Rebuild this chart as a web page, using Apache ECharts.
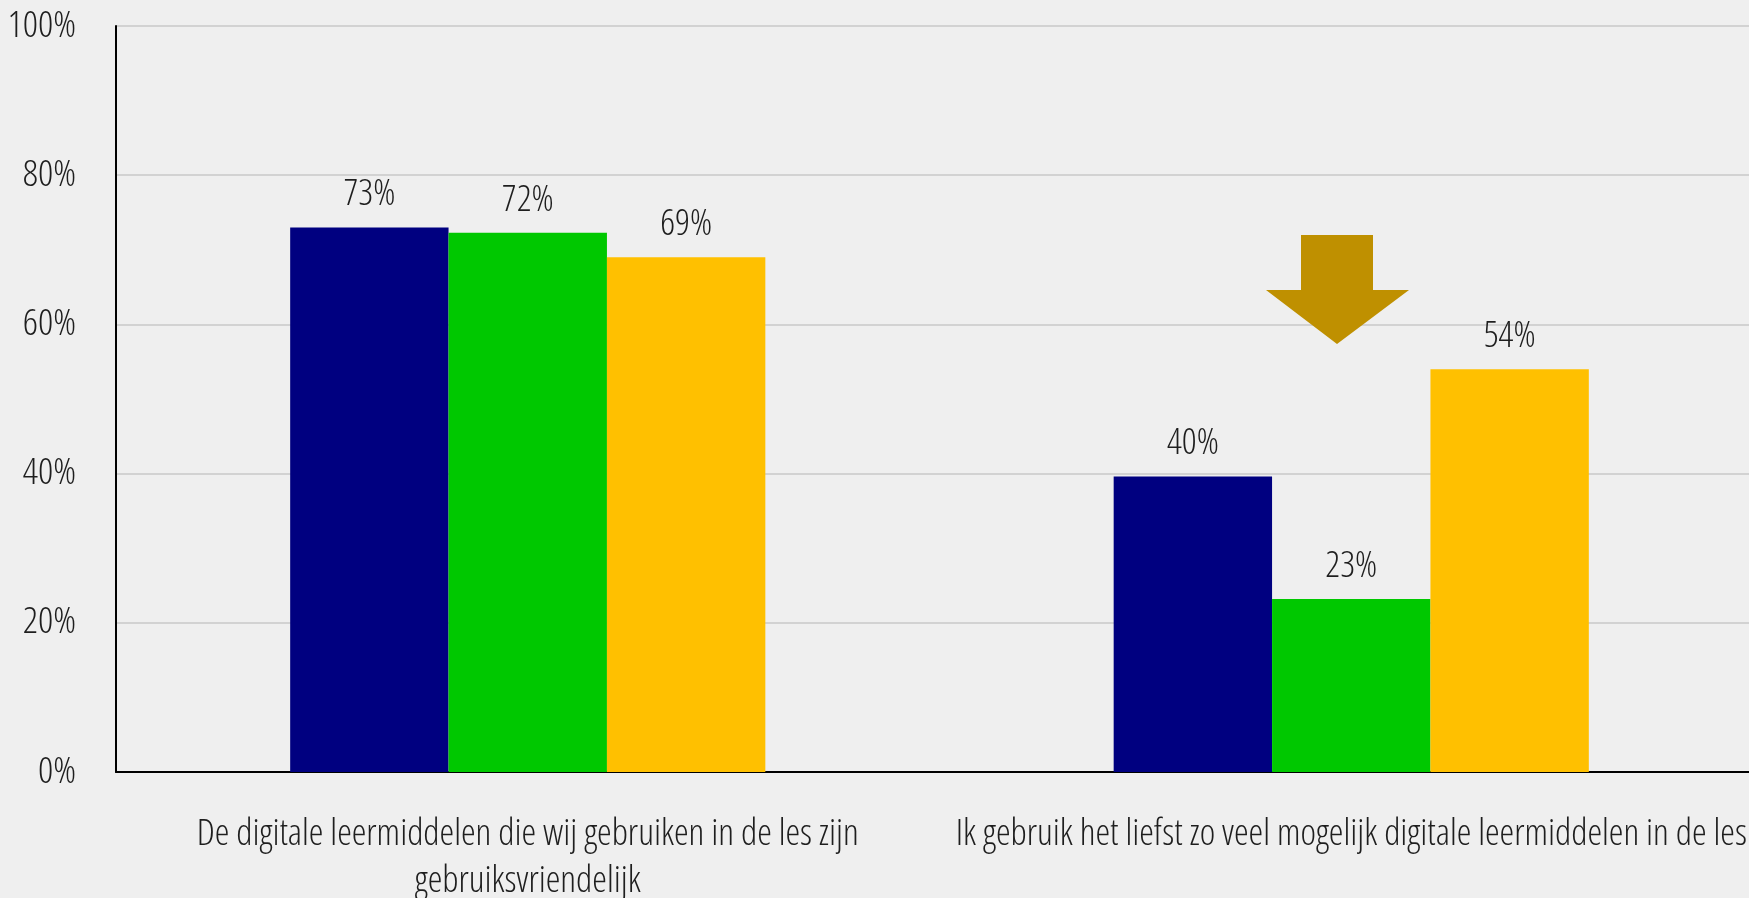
<!DOCTYPE html>
<html>
<head>
<meta charset="utf-8">
<script src="https://cdn.jsdelivr.net/npm/echarts@6/dist/echarts.min.js"></script>
<style>
  html, body { margin: 0; padding: 0; background: #efefef; }
  #chart { width: 1749px; height: 898px; }
</style>
</head>
<body>
<div id="chart"></div>
<script>
const categories = [
  'De digitale leermiddelen die wij gebruiken in de les zijn\ngebruiksvriendelijk',
  'Ik gebruik het liefst zo veel mogelijk digitale leermiddelen in de les'
]
const seriesA = [73, 39.6]
const seriesB = [72.3, 23.2]
const seriesC = [69, 54]
const yTicks = [0, 20, 40, 60, 80, 100]

// condensed light face, the stretch keyword goes into the canvas font string
const font = '"Open Sans", "DejaVu Sans Condensed", sans-serif'
const weight = '300 condensed'
const textColor = '#1e1e1e'

const chart = echarts.init(document.getElementById('chart'))

function barSeries(name, data, color) {
  return {
    name,
    type: 'bar',
    data,
    barGap: '0%',
    barCategoryGap: '42.3%',
    itemStyle: { color },
    label: {
      show: true,
      position: 'top',
      distance: 14,
      formatter: (p) => Math.round(p.value) + '%',
      color: textColor,
      fontFamily: font,
      fontWeight: weight,
      fontSize: 36.5,
      lineHeight: 37
    }
  }
}

chart.setOption({
  backgroundColor: '#efefef',
  animation: false,
  grid: {
    left: 116, right: -14, top: 26, bottom: 126,
    containLabel: false,
    outerBoundsMode: 'none'
  },
  xAxis: {
    type: 'category',
    data: categories,
    axisLine: { lineStyle: { color: '#000', width: 2 } },
    axisTick: { show: false },
    axisLabel: {
      interval: 0,
      hideOverlap: false,
      margin: 39,
      color: textColor,
      fontFamily: font,
      fontWeight: weight,
      fontSize: 37,
      lineHeight: 47
    }
  },
  yAxis: {
    type: 'value',
    min: yTicks[0],
    max: yTicks[yTicks.length - 1],
    interval: yTicks[1] - yTicks[0],
    axisLine: { show: true, lineStyle: { color: '#000', width: 2 } },
    axisTick: { show: false },
    splitLine: { lineStyle: { color: '#d2d2d2', width: 2 } },
    axisLabel: {
      margin: 40,
      formatter: '{value}%',
      color: textColor,
      fontFamily: font,
      fontWeight: weight,
      fontSize: 37.5
    }
  },
  series: [
    barSeries('Reeks 1', seriesA, '#000080'),
    barSeries('Reeks 2', seriesB, '#00c800'),
    barSeries('Reeks 3', seriesC, '#ffc000')
  ],
  graphic: [
    {
      type: 'polygon',
      z: 100,
      shape: {
        points: [
          [1301, 235], [1373, 235], [1373, 290], [1409, 290],
          [1337, 344], [1266, 290], [1301, 290]
        ]
      },
      style: { fill: '#bf9000' }
    }
  ]
})

window.addEventListener('resize', () => chart.resize())
</script>
</body>
</html>
